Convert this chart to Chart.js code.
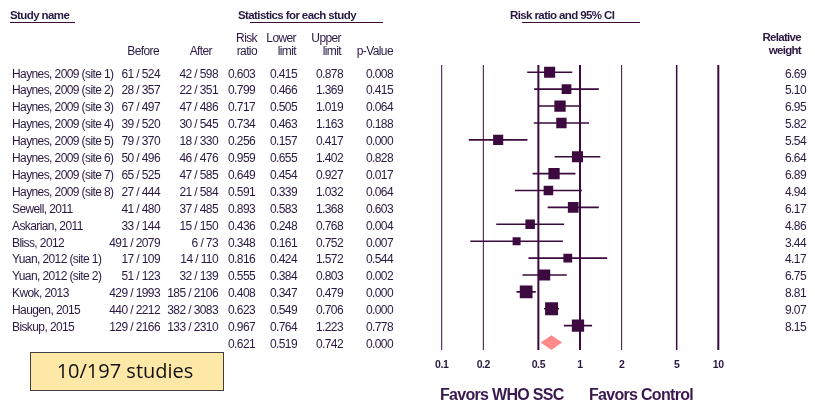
<!DOCTYPE html>
<html>
<head>
<meta charset="utf-8">
<script src="https://cdn.jsdelivr.net/npm/chart.js@4.4.1/dist/chart.umd.min.js"></script>
<style>
  html, body { margin: 0; padding: 0; background: #ffffff; }
  #wrap { position: relative; width: 815px; height: 405px; }
</style>
</head>
<body>
<div id="wrap"><canvas id="forest" width="815" height="405"></canvas></div>
<script>
// Forest plot data
const studies = [
    'Haynes, 2009 (site 1)', 'Haynes, 2009 (site 2)', 'Haynes, 2009 (site 3)', 'Haynes, 2009 (site 4)',
    'Haynes, 2009 (site 5)', 'Haynes, 2009 (site 6)', 'Haynes, 2009 (site 7)', 'Haynes, 2009 (site 8)',
    'Sewell, 2011', 'Askarian, 2011', 'Bliss, 2012', 'Yuan, 2012 (site 1)', 'Yuan, 2012 (site 2)',
    'Kwok, 2013', 'Haugen, 2015', 'Biskup, 2015'
];
const before = ['61 / 524', '28 / 357', '67 / 497', '39 / 520', '79 / 370', '50 / 496', '65 / 525', '27 / 444',
    '41 / 480', '33 / 144', '491 / 2079', '17 / 109', '51 / 123', '429 / 1993', '440 / 2212', '129 / 2166'];
const after = ['42 / 598', '22 / 351', '47 / 486', '30 / 545', '18 / 330', '46 / 476', '47 / 585', '21 / 584',
    '37 / 485', '15 / 150', '6 / 73', '14 / 110', '32 / 139', '185 / 2106', '382 / 3083', '133 / 2310'];
const riskRatio = [0.603, 0.799, 0.717, 0.734, 0.256, 0.959, 0.649, 0.591, 0.893, 0.436, 0.348, 0.816, 0.555, 0.408, 0.623, 0.967];
const lowerLimit = [0.415, 0.466, 0.505, 0.463, 0.157, 0.655, 0.454, 0.339, 0.583, 0.248, 0.161, 0.424, 0.384, 0.347, 0.549, 0.764];
const upperLimit = [0.878, 1.369, 1.019, 1.163, 0.417, 1.402, 0.927, 1.032, 1.368, 0.768, 0.752, 1.572, 0.803, 0.479, 0.706, 1.223];
const pValue = ['0.008', '0.415', '0.064', '0.188', '0.000', '0.828', '0.017', '0.064',
    '0.603', '0.004', '0.007', '0.544', '0.002', '0.000', '0.000', '0.778'];
const weight = [6.69, 5.10, 6.95, 5.82, 5.54, 6.64, 6.89, 4.94, 6.17, 4.86, 3.44, 4.17, 6.75, 8.81, 9.07, 8.15];
const summary = { rr: 0.621, lower: 0.519, upper: 0.742, p: '0.000' };
const axisTicks = [0.1, 0.2, 0.5, 1, 2, 5, 10];

const colors = {
    mark: '#3c0a3e',
    text: '#2a1842',
    diamond: '#ff8a8a',
    boxFill: '#fde8a8',
    boxLine: '#3f3f3f'
};

const summaryRow = studies.length + 1;

// square markers (size grows with weight)
const squarePoints = riskRatio.map((rr, i) => ({ x: rr, y: i + 1 }));
const squareRadius = weight.map(w => 4.3 * Math.sqrt(w) / (2 * Math.SQRT1_2));

// CI whiskers as one line with gaps
const ciPoints = [];
lowerLimit.forEach((lo, i) => {
    ciPoints.push({ x: lo, y: i + 1 });
    ciPoints.push({ x: upperLimit[i], y: i + 1 });
    ciPoints.push({ x: 1, y: null });
});

// summary diamond
const dh = 0.44;
const diamondPoints = [
    { x: summary.lower, y: summaryRow },
    { x: summary.rr, y: summaryRow - dh },
    { x: summary.upper, y: summaryRow },
    { x: summary.rr, y: summaryRow + dh },
    { x: summary.lower, y: summaryRow }
];

function setFont(ctx, size, weight, spacing) {
    ctx.font = (weight || 'normal') + ' ' + size + 'px "Liberation Sans", Arial, sans-serif';
    ctx.letterSpacing = (spacing || 0) + 'px';
}

function txt(ctx, s, x, y, align) {
    ctx.textAlign = align || 'left';
    ctx.fillText(s, x, y);
}

// vertical reference lines drawn from the x scale
const gridPlugin = {
    id: 'forestGrid',
    beforeDatasetsDraw(chart) {
        const ctx = chart.ctx;
        const xs = chart.scales.x;
        const area = chart.chartArea;
        const widths = { 0.1: 1, 0.2: 1, 0.5: 2, 1: 2, 2: 1, 5: 1.5, 10: 2 };
        ctx.save();
        ctx.strokeStyle = colors.mark;
        axisTicks.forEach(t => {
            const px = xs.getPixelForValue(t);
            ctx.lineWidth = widths[t];
            ctx.beginPath();
            ctx.moveTo(px, area.top);
            ctx.lineTo(px, area.bottom);
            ctx.stroke();
        });
        ctx.restore();
    }
};

// table text, headers, tick labels, footer
const tablePlugin = {
    id: 'forestTable',
    afterDraw(chart) {
        const ctx = chart.ctx;
        const xs = chart.scales.x;
        const ys = chart.scales.y;
        ctx.save();
        ctx.fillStyle = colors.text;
        ctx.textBaseline = 'middle';

        // section titles
        setFont(ctx, 11.5, 'bold', -0.6);
        txt(ctx, 'Study name', 10, 16);
        txt(ctx, 'Statistics for each study', 238, 16);
        txt(ctx, 'Risk ratio and 95% CI', 510, 16);
        ctx.strokeStyle = colors.mark;
        ctx.lineWidth = 1;
        [[10, 75], [250, 383], [522, 640]].forEach(([a, b]) => {
            ctx.beginPath();
            ctx.moveTo(a, 22.5);
            ctx.lineTo(b, 22.5);
            ctx.stroke();
        });

        // column headers
        setFont(ctx, 12, 'normal', -0.6);
        txt(ctx, 'Before', 159, 52, 'right');
        txt(ctx, 'After', 212, 52, 'right');
        txt(ctx, 'Risk', 257, 39, 'right');
        txt(ctx, 'ratio', 257, 52, 'right');
        txt(ctx, 'Lower', 296, 39, 'right');
        txt(ctx, 'limit', 296, 52, 'right');
        txt(ctx, 'Upper', 341, 39, 'right');
        txt(ctx, 'limit', 341, 52, 'right');
        txt(ctx, 'p-Value', 393, 52, 'right');
        setFont(ctx, 11.5, 'bold', -0.7);
        txt(ctx, 'Relative', 801, 38, 'right');
        txt(ctx, 'weight', 801, 51, 'right');

        // rows
        setFont(ctx, 12, 'normal', -0.6);
        studies.forEach((name, i) => {
            const y = ys.getPixelForValue(i + 1) + 2;
            txt(ctx, name, 12, y);
            txt(ctx, before[i], 160, y, 'right');
            txt(ctx, after[i], 218, y, 'right');
            txt(ctx, riskRatio[i].toFixed(3), 228, y);
            txt(ctx, lowerLimit[i].toFixed(3), 297, y, 'right');
            txt(ctx, upperLimit[i].toFixed(3), 343, y, 'right');
            txt(ctx, pValue[i], 393, y, 'right');
            txt(ctx, weight[i].toFixed(2), 806, y, 'right');
        });
        const sy = ys.getPixelForValue(summaryRow) + 2;
        txt(ctx, summary.rr.toFixed(3), 228, sy);
        txt(ctx, summary.lower.toFixed(3), 297, sy, 'right');
        txt(ctx, summary.upper.toFixed(3), 343, sy, 'right');
        txt(ctx, summary.p, 393, sy, 'right');

        // x tick labels
        setFont(ctx, 10.5, 'bold', -0.4);
        axisTicks.forEach(t => txt(ctx, String(t), xs.getPixelForValue(t), 365, 'center'));

        // favours labels
        ctx.fillStyle = '#3a1850';
        setFont(ctx, 16, 'bold', -0.7);
        txt(ctx, 'Favors WHO SSC', 440, 396);
        txt(ctx, 'Favors Control', 589, 396);

        // studies box
        ctx.fillStyle = colors.boxFill;
        ctx.fillRect(30.5, 352.5, 193, 38);
        ctx.strokeStyle = colors.boxLine;
        ctx.lineWidth = 1;
        ctx.strokeRect(30.5, 352.5, 193, 38);
        ctx.fillStyle = '#111111';
        ctx.font = '20px "Open Sans", "Noto Sans", sans-serif';
        ctx.letterSpacing = '0px';
        txt(ctx, '10/197 studies', 125, 372, 'center');
        ctx.restore();
    }
};

new Chart(document.getElementById('forest').getContext('2d'), {
    type: 'scatter',
    data: {
        datasets: [
            {
                label: 'Risk ratio',
                data: squarePoints,
                pointStyle: 'rect',
                pointRadius: squareRadius,
                backgroundColor: colors.mark,
                borderColor: colors.mark,
                borderWidth: 0,
                order: 0
            },
            {
                label: '95% CI',
                data: ciPoints,
                showLine: true,
                spanGaps: false,
                pointRadius: 0,
                borderColor: colors.mark,
                borderWidth: 1.6,
                order: 1
            },
            {
                label: 'Summary',
                data: diamondPoints,
                showLine: true,
                fill: 'shape',
                pointRadius: 0,
                borderWidth: 0,
                borderColor: colors.diamond,
                backgroundColor: colors.diamond,
                order: 2
            }
        ]
    },
    options: {
        responsive: false,
        animation: false,
        events: [],
        layout: { padding: { left: 441.7, right: 96.7, top: 65, bottom: 55 } },
        plugins: {
            legend: { display: false },
            tooltip: { enabled: false }
        },
        scales: {
            x: { type: 'logarithmic', min: 0.1, max: 10, display: false },
            y: { type: 'linear', min: 0.57, max: 17.44, reverse: true, display: false }
        }
    },
    plugins: [gridPlugin, tablePlugin]
});
</script>
</body>
</html>
